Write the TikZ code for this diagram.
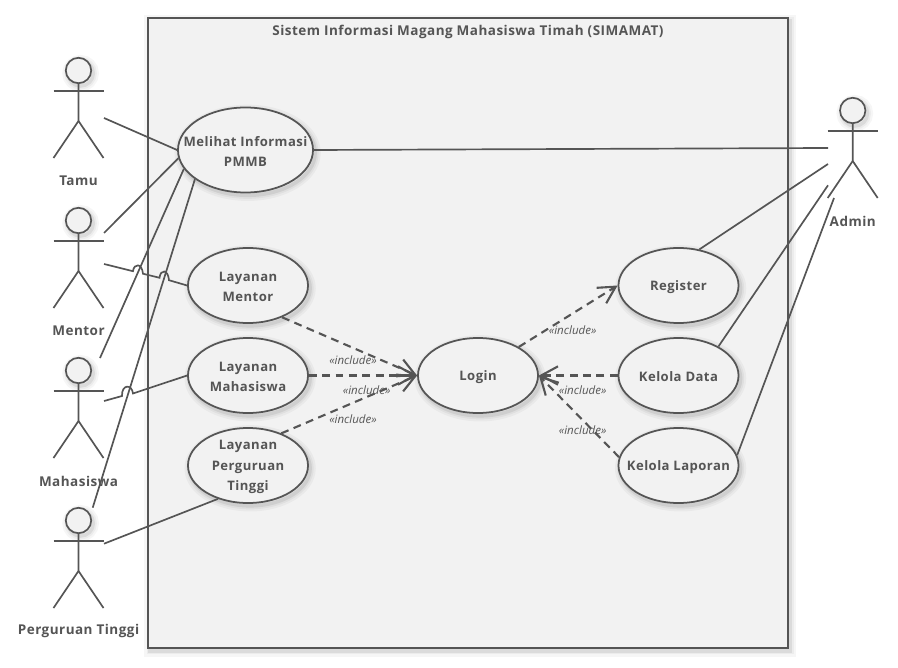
\documentclass[tikz,border=0pt]{standalone}
\usepackage{fontspec}
\setmainfont{Open Sans}[LetterSpace=3.5]
\newfontfamily\incfont{Open Sans}
\usetikzlibrary{arrows.meta,shapes.geometric}
\definecolor{umlgray}{HTML}{555555}
\definecolor{umlfill}{HTML}{F2F2F2}

\begin{document}
\begin{tikzpicture}[
  x=0.025cm, y=-0.025cm,
  softshadow/.style={
    preaction={draw=black, draw opacity=.035, line width=8pt, transform canvas={shift={(1.5pt,-2pt)}}},
    preaction={draw=black, draw opacity=.04, line width=5pt, transform canvas={shift={(1.5pt,-2pt)}}},
    preaction={draw=black, draw opacity=.07, line width=2.5pt, transform canvas={shift={(1.5pt,-2pt)}}},
  },
  usecase/.style={ellipse, softshadow, draw=umlgray, fill=umlfill, line width=1.25pt, inner sep=0pt, minimum width=3cm, minimum height=1.875cm},
  uctext/.style={font=\fontsize{9.3}{14.6}\selectfont\bfseries, text=umlgray, align=center, inner sep=0pt, yshift=-1pt},
  titletext/.style={font=\fontsize{9.6}{14.6}\selectfont\bfseries, text=umlgray, inner sep=0pt},
  actorhead/.style={circle, softshadow, draw=umlgray, fill=umlfill, line width=1.2pt, inner sep=0pt, minimum size=0.635cm},
  actorline/.style={draw=umlgray, line width=1.2pt},
  assoc/.style={draw=umlgray, line width=1.2pt},
  incl/.style={draw=umlgray, line width=1.5pt, dash pattern=on 5.6pt off 3.9pt, -{Straight Barb[length=12pt,width=13pt,line width=1.5pt]}},
  inctext/.style={font=\incfont\fontsize{8.2}{9}\selectfont\itshape, text=umlgray, inner sep=0pt},
]
\useasboundingbox (0,0) rectangle (898,668);
% System boundary
\node[rectangle, softshadow, draw=umlgray, fill=umlfill, line width=1.5pt, minimum width=16cm, minimum height=15.75cm, inner sep=0pt] (system) at (468,333) {};
\node[titletext] (systemTitle) at (468,31.5) {Sistem Informasi Magang Mahasiswa Timah (SIMAMAT)};

% Actors
\foreach \nm/\cx/\cy/\lbl in {
  tamu/78.5/70.5/Tamu, mentor/78.5/220.5/Mentor, mahasiswa/78.5/370.5/Mahasiswa,
  perguruan/78.5/520.5/Perguruan Tinggi, admin/852.7/110.5/Admin
} {
  \node[actorhead] (\nm Head) at (\cx,\cy) {};
  \draw[actorline] (\nm Head.south) -- (\cx,\cy+50.5) coordinate (\nm Hip) -- (\cx-25,\cy+87.5);
  \draw[actorline] (\nm Hip) -- (\cx+25,\cy+87.5);
  \draw[actorline] (\cx-25,\cy+20.8) -- (\cx+25,\cy+20.8);
  \node[titletext] (\nm Label) at (\cx,\cy+110.5) {\lbl};
}

% Use cases
\node[usecase, minimum width=3.375cm, minimum height=2.125cm] (melihat) at (245.5,150) {};
\node[usecase] (ucMentor) at (248,285.5) {};
\node[usecase] (ucMahasiswa) at (248,375.5) {};
\node[usecase] (ucPerguruan) at (248,465.5) {};
\node[usecase] (login) at (478,375.5) {};
\node[usecase] (register) at (678.5,285.5) {};
\node[usecase] (kelolaData) at (678.5,375.5) {};
\node[usecase] (kelolaLaporan) at (678.5,465.5) {};
\node[uctext] (melihatText) at (melihat) {Melihat Informasi\\PMMB};
\node[uctext] (ucMentorText) at (ucMentor) {Layanan\\Mentor};
\node[uctext] (ucMahasiswaText) at (ucMahasiswa) {Layanan\\Mahasiswa};
\node[uctext] (ucPerguruanText) at (ucPerguruan) {Layanan\\Perguruan\\Tinggi};
\node[uctext] (loginText) at (login) {Login};
\node[uctext] (registerText) at (register) {Register};
\node[uctext] (kelolaDataText) at (kelolaData) {Kelola Data};
\node[uctext] (kelolaLaporanText) at (kelolaLaporan) {Kelola Laporan};

% Free ends of the associations
\coordinate (tamuEnd) at (104,118);
\coordinate (mentorEndA) at (104,233);
\coordinate (mentorEndB) at (104,264);
\coordinate (mahasiswaEndA) at (100,358);
\coordinate (mahasiswaEndB) at (104,401);
\coordinate (perguruanEndA) at (92.7,507.7);
\coordinate (perguruanEndB) at (104,543.7);
\coordinate (adminEndA) at (828,148);
\coordinate (adminEndB) at (828,164);
\coordinate (adminEndC) at (828,185.3);
\coordinate (adminEndD) at (834,198);

% Associations
\draw[assoc] (tamuEnd) -- (melihat.west);
\draw[assoc] (mentorEndA) -- (melihat.187.7);
\draw[assoc] (mahasiswaEndA) -- (melihat.197.2);
\draw[assoc] (perguruanEndA) -- (melihat.210.7);
\draw[assoc] (melihat.east) -- (adminEndA);
\draw[assoc] (mentorEndB) -- (133,271.2) .. controls (134,263) and (142,263) .. (143,273.7)
  -- (159.5,277.8) .. controls (160.5,269) and (168,269) .. (169,280.2) -- (ucMentor.west);
\draw[assoc] (mahasiswaEndB) -- (122,396) .. controls (121.5,384) and (132,384) .. (133,393.5) -- (ucMahasiswa.west);
\draw[assoc] (perguruanEndB) -- (ucPerguruan.228);
\draw[assoc] (adminEndB) -- (register.60);
\draw[assoc] (adminEndC) -- (kelolaData.36);
\draw[assoc] (adminEndD) -- (kelolaLaporan.10);

% Include dependencies
\draw[incl] (ucMentor.317) -- (login.west);
\draw[incl] (ucMahasiswa.east) -- (login.west);
\draw[incl] (ucPerguruan.44.6) -- (login.west);
\draw[incl] (login.35.5) -- (register.west);
\draw[incl] (kelolaData.west) -- (login.east);
\draw[incl] (kelolaLaporan.172) -- (login.east);

\node[inctext] (incA) at (353,360) {«include»};
\node[inctext] (incB) at (366.7,390) {«include»};
\node[inctext] (incC) at (353,419) {«include»};
\node[inctext] (incD) at (572.7,330) {«include»};
\node[inctext] (incE) at (582.7,390) {«include»};
\node[inctext] (incF) at (582.7,430) {«include»};
\end{tikzpicture}
\end{document}
